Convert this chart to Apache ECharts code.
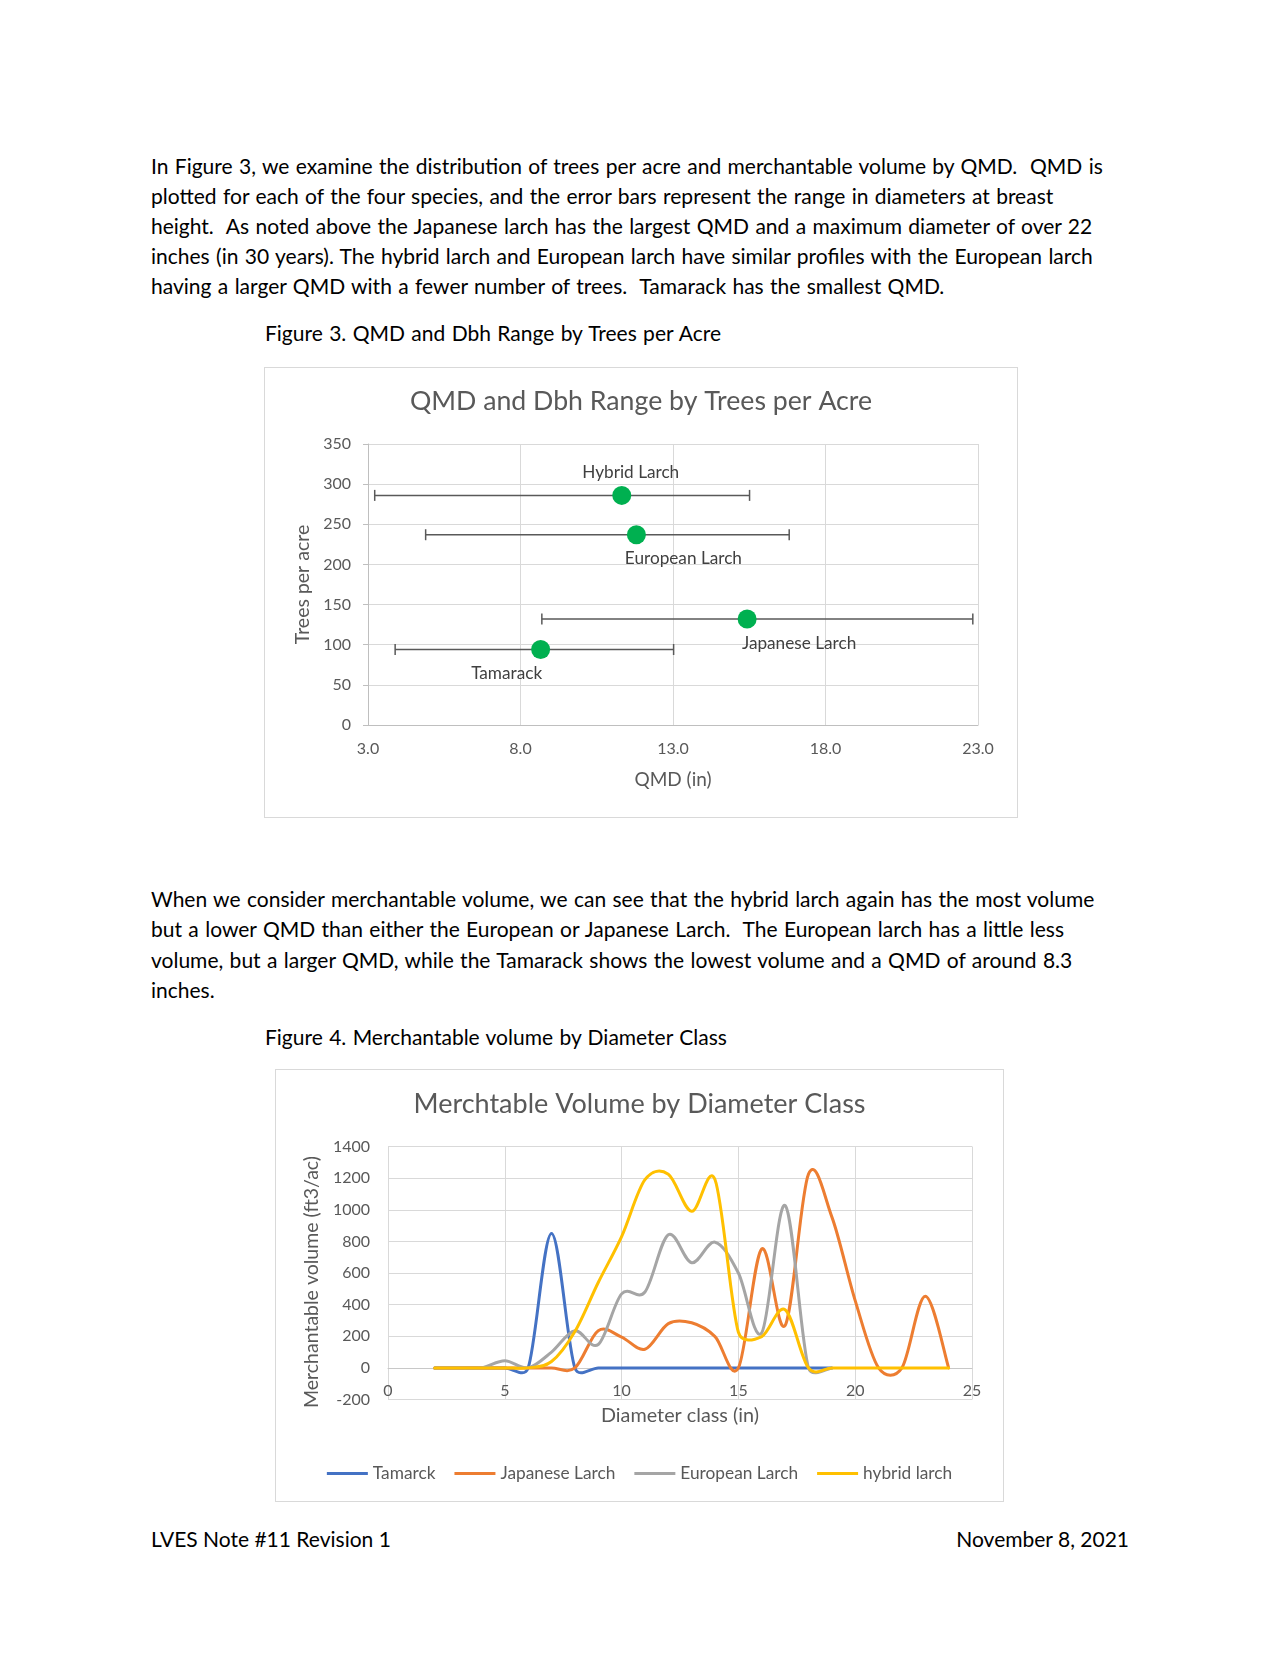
<!DOCTYPE html>
<html><head><meta charset="utf-8">
<script src="https://cdn.jsdelivr.net/npm/echarts/dist/echarts.min.js"></script>
<style>
html,body{margin:0;padding:0;background:#fff;}
body{width:1280px;height:1657px;position:relative;overflow:hidden;font-family:Lato,'Open Sans',sans-serif;color:#000;}
.t{position:absolute;white-space:pre;font-size:21px;line-height:31px;left:151px;word-spacing:1px;}
.box{position:absolute;border:1px solid #d9d9d9;box-sizing:border-box;background:#fff;}
.box > div{position:absolute;left:0;top:0;right:0;bottom:0;}
</style></head>
<body>
<div class="t" style="top:150px">In Figure 3, we examine the distribution of trees per acre and merchantable volume by QMD.  QMD is</div>
<div class="t" style="top:180px">plotted for each of the four species, and the error bars represent the range in diameters at breast</div>
<div class="t" style="top:210px">height.  As noted above the Japanese larch has the largest QMD and a maximum diameter of over 22</div>
<div class="t" style="top:240px">inches (in 30 years). The hybrid larch and European larch have similar profiles with the European larch</div>
<div class="t" style="top:270px">having a larger QMD with a fewer number of trees.  Tamarack has the smallest QMD.</div>
<div class="t" style="top:317px;left:265px">Figure 3. QMD and Dbh Range by Trees per Acre</div>
<div class="box" style="left:264px;top:367px;width:754px;height:451px"><div id="c1"></div></div>
<div class="t" style="top:883px">When we consider merchantable volume, we can see that the hybrid larch again has the most volume</div>
<div class="t" style="top:913px">but a lower QMD than either the European or Japanese Larch.  The European larch has a little less</div>
<div class="t" style="top:944px">volume, but a larger QMD, while the Tamarack shows the lowest volume and a QMD of around 8.3</div>
<div class="t" style="top:974px">inches.</div>
<div class="t" style="top:1021px;left:265px">Figure 4. Merchantable volume by Diameter Class</div>
<div class="box" style="left:275px;top:1069px;width:729px;height:433px"><div id="c2"></div></div>
<div class="t" style="top:1523px;word-spacing:0">LVES Note #11 Revision 1</div>
<div class="t" style="top:1523px;left:auto;right:151px;word-spacing:0">November 8, 2021</div>
<script>
// ---------- Figure 3 data ----------
const species = ['Hybrid Larch', 'European Larch', 'Japanese Larch', 'Tamarack'];
const qmd = [11.32, 11.80, 15.43, 8.66];
const treesPerAcre = [286, 237, 132, 94];
const dbhMin = [3.22, 4.89, 8.70, 3.89];
const dbhMax = [15.51, 16.81, 22.83, 13.02];

// ---------- Figure 4 data ----------
const classesShort = [2,3,4,5,6,7,8,9,10,11,12,13,14,15,16,17,18,19];
const classesLong = [2,3,4,5,6,7,8,9,10,11,12,13,14,15,16,17,18,19,20,21,22,23,24];
const tamarck = [0,0,0,0,0,850,0,0,0,0,0,0,0,0,0,0,0,0];
const japaneseLarch = [0,0,0,0,0,0,0,235,195,118,280,285,198,0,752,268,1225,955,425,0,0,453,0];
const europeanLarch = [0,0,0,45,0,100,235,148,468,480,842,665,795,600,222,1027,0,0];
const hybridLarch = [0,0,0,0,0,40,230,540,830,1190,1225,990,1190,225,198,368,0,0,0,0,0,0,0];

const FONT = 'Lato';
const GREY = '#595959';

// ---------- Chart 1 ----------
const labelPlacement = [
  {position: 'top', offset: [9, 0]},
  {position: 'bottom', offset: [47, 1]},
  {position: 'bottom', offset: [52, 1]},
  {position: 'bottom', offset: [-34, 1]}
];
const c1 = echarts.init(document.getElementById('c1'));
c1.setOption({
  animation: false,
  textStyle: {fontFamily: FONT},
  title: {text: 'QMD and Dbh Range by Trees per Acre', left: 'center', top: 15,
    textStyle: {fontSize: 26.7, fontWeight: 'normal', color: GREY, fontFamily: FONT}},
  grid: {left: 103, top: 76, width: 610, height: 281},
  xAxis: {type: 'value', min: 3, max: 23, interval: 5,
    name: 'QMD (in)', nameLocation: 'middle', nameGap: 45,
    nameTextStyle: {fontSize: 19, color: GREY, fontFamily: FONT},
    axisLine: {show: true, onZero: false, lineStyle: {color: '#bfbfbf'}},
    axisTick: {show: false},
    axisLabel: {margin: 16, fontSize: 16, color: GREY, fontFamily: FONT, formatter: v => v.toFixed(1)},
    splitLine: {show: true, lineStyle: {color: '#d9d9d9'}}},
  yAxis: {type: 'value', min: 0, max: 350, interval: 50,
    name: 'Trees per acre', nameLocation: 'middle', nameGap: 53,
    nameTextStyle: {fontSize: 19.5, color: GREY, fontFamily: FONT},
    axisLine: {show: true, lineStyle: {color: '#bfbfbf'}},
    axisTick: {show: true, length: 5, lineStyle: {color: '#bfbfbf'}},
    axisLabel: {margin: 17, fontSize: 16, color: GREY, fontFamily: FONT},
    splitLine: {show: true, lineStyle: {color: '#d9d9d9'}}},
  series: [
    {type: 'custom', z: 2,
     data: species.map((s, i) => [dbhMin[i], dbhMax[i], treesPerAcre[i]]),
     encode: {x: [0, 1], y: 2},
     renderItem: function (params, api) {
       const a = api.coord([api.value(0), api.value(2)]);
       const b = api.coord([api.value(1), api.value(2)]);
       const h = 5.5;
       const st = {stroke: GREY, lineWidth: 1.5};
       return {type: 'group', children: [
         {type: 'line', shape: {x1: a[0], y1: a[1], x2: b[0], y2: b[1]}, style: st},
         {type: 'line', shape: {x1: a[0], y1: a[1] - h, x2: a[0], y2: a[1] + h}, style: st},
         {type: 'line', shape: {x1: b[0], y1: b[1] - h, x2: b[0], y2: b[1] + h}, style: st}
       ]};
     }},
    {type: 'scatter', z: 3, symbolSize: 19, itemStyle: {color: '#00b050', opacity: 1},
     data: species.map((s, i) => ({
       name: s, value: [qmd[i], treesPerAcre[i]],
       label: {show: true, formatter: s, position: labelPlacement[i].position, offset: labelPlacement[i].offset,
               fontSize: 17.2, color: '#404040', fontFamily: FONT}
     }))}
  ]
});

// ---------- Chart 2 ----------
// Spreadsheet-style smoothed line (cubic Bezier through the data points, tangent parallel to neighbours)
function smoothPath(pts) {
  const dist = (p, q) => Math.hypot(q[0] - p[0], q[1] - p[1]);
  let d = 'M' + pts[0][0] + ',' + pts[0][1];
  for (let i = 0; i < pts.length - 1; i++) {
    const p0 = pts[i - 1] || pts[i], p1 = pts[i], p2 = pts[i + 1], p3 = pts[i + 2] || pts[i + 1];
    const d12 = dist(p1, p2), d02 = dist(p0, p2), d13 = dist(p1, p3);
    let f0 = 1 / 6, f1 = 1 / 6;
    if (d02 / 6 > d12 / 2 && d02 > 0) f0 = d12 / (2 * d02);
    if (d13 / 6 > d12 / 2 && d13 > 0) f1 = d12 / (2 * d13);
    const c1x = p1[0] + f0 * (p2[0] - p0[0]), c1y = p1[1] + f0 * (p2[1] - p0[1]);
    const c2x = p2[0] - f1 * (p3[0] - p1[0]), c2y = p2[1] - f1 * (p3[1] - p1[1]);
    d += ' C' + c1x + ',' + c1y + ' ' + c2x + ',' + c2y + ' ' + p2[0] + ',' + p2[1];
  }
  return d;
}
const mk = (name, xs, ys, color) => ({
  name: name, type: 'custom',
  data: xs.map((x, i) => [x, ys[i]]),
  encode: {x: 0, y: 1},
  itemStyle: {color: color},
  renderItem: function (params, api) {
    if (params.dataIndexInside !== 0) return null;
    const pts = [];
    for (let i = 0; i < params.dataInsideLength; i++) {
      pts.push(api.coord([api.value(0, i), api.value(1, i)]));
    }
    return {type: 'path', shape: {pathData: smoothPath(pts)},
            style: {stroke: color, lineWidth: 3, fill: null, lineJoin: 'round', lineCap: 'round'}};
  }
});
const yMin2 = -200, yMax2 = 1400, gridH2 = 253;
const c2 = echarts.init(document.getElementById('c2'));
c2.setOption({
  animation: false,
  textStyle: {fontFamily: FONT},
  title: {text: 'Merchtable Volume by Diameter Class', left: 'center', top: 16,
    textStyle: {fontSize: 27, fontWeight: 'normal', color: GREY, fontFamily: FONT}},
  grid: {left: 112, top: 76.5, width: 584, height: gridH2},
  legend: {left: 'center', top: 390, icon: 'rect', itemWidth: 41, itemHeight: 3, itemGap: 19,
    textStyle: {fontSize: 17.3, color: GREY, fontFamily: FONT},
    data: ['Tamarck', 'Japanese Larch', 'European Larch', 'hybrid larch']},
  xAxis: {type: 'value', min: 0, max: 25, interval: 5,
    offset: -gridH2 * (0 - yMin2) / (yMax2 - yMin2),
    name: 'Diameter class (in)', nameLocation: 'middle', nameGap: 38,
    nameTextStyle: {fontSize: 19.8, color: GREY, fontFamily: FONT},
    axisLine: {show: true, onZero: false, lineStyle: {color: '#c8c8c8'}},
    axisTick: {show: false},
    axisLabel: {margin: 15, fontSize: 16, color: GREY, fontFamily: FONT},
    splitLine: {show: true, lineStyle: {color: '#d9d9d9'}}},
  yAxis: {type: 'value', min: yMin2, max: yMax2, interval: 200,
    name: 'Merchantable volume (ft3/ac)', nameLocation: 'middle', nameGap: 62,
    nameTextStyle: {fontSize: 19.5, color: GREY, fontFamily: FONT, padding: [0, 18, 0, 0]},
    axisLine: {show: false}, axisTick: {show: false},
    axisLabel: {margin: 18, fontSize: 16, color: GREY, fontFamily: FONT, formatter: v => String(v)},
    splitLine: {show: true, lineStyle: {color: '#d9d9d9'}}},
  series: [
    mk('Tamarck', classesShort, tamarck, '#4472c4'),
    mk('Japanese Larch', classesLong, japaneseLarch, '#ed7d31'),
    mk('European Larch', classesShort, europeanLarch, '#a5a5a5'),
    mk('hybrid larch', classesLong, hybridLarch, '#ffc000')
  ]
});
</script>
</body></html>
